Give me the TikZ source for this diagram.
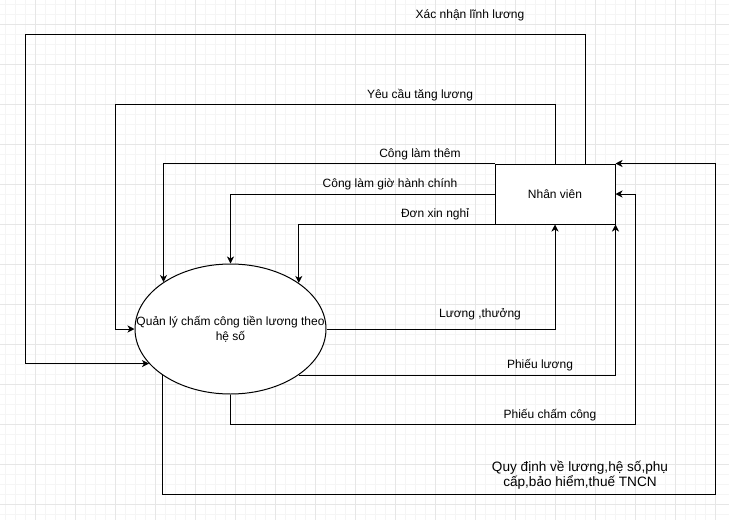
\documentclass[tikz,border=0pt]{standalone}
\usepackage{fontspec}
\setmainfont{Liberation Sans}
\usetikzlibrary{shapes.geometric,arrows.meta}
\definecolor{gridminor}{RGB}{245,245,245}
\definecolor{gridmajor}{RGB}{230,230,230}
\begin{document}
\begin{tikzpicture}[x=1pt,y=-1pt,
  conn/.style={draw=black, line width=1pt},
  arr/.style={conn, -{Stealth[length=7pt,width=7pt,inset=2pt]}},
  lbl/.style={font=\fontsize{12}{14.5}\selectfont, inner sep=0pt, align=center},
  biglbl/.style={lbl, font=\fontsize{13.6}{15.4}\selectfont},
]
\useasboundingbox (0,0) rectangle (729,520);
\fill[white] (0,0) rectangle (729,520);
\foreach \x in {5.7,15.7,...,725} \draw[gridminor, line width=0.8pt] (\x,0) -- (\x,520);
\foreach \y in {4.3,14.3,...,519} \draw[gridminor, line width=0.8pt] (0,\y) -- (729,\y);
\foreach \x in {35.7,75.7,...,725} \draw[gridmajor, line width=0.8pt] (\x,0) -- (\x,520);
\foreach \y in {24.3,64.3,...,519} \draw[gridmajor, line width=0.8pt] (0,\y) -- (729,\y);

\node[draw, line width=1pt, fill=white, minimum width=120pt, minimum height=60pt, lbl] (nv) at (555,194) {Nhân viên};
\node[ellipse, draw, line width=1pt, fill=white, minimum width=191pt, minimum height=130pt, inner sep=0pt] (proc) at (230.5,329) {};
\node[lbl] (proctext) at (230.5,329.5) {Quản lý chấm công tiền lương theo\\hệ số};

\draw[arr] ([xshift=-30pt]nv.north east) |- (25,34) |- (proc.203.5);
\draw[arr] (nv.north) |- (115,104) |- (proc.west);
\draw[arr] (nv.north west) -| (proc.145.7);
\draw[arr] (nv.west) -| (proc.north);
\draw[arr] (nv.south west) -| (proc.34.3);
\draw[arr] (proc.east) -| (nv.south);
\draw[arr] (proc.-34.3) -| (nv.south east);
\draw[arr] (proc.south) |- (635,424) |- (nv.east);
\draw[arr] (proc.214.3) |- (715,494) |- (nv.north east);

\node[lbl] (l1) at (470,15) {Xác nhận lĩnh lương};
\node[lbl] (l2) at (420,95) {Yêu cầu tăng lương};
\node[lbl] (l3) at (420,154.5) {Công làm thêm};
\node[lbl] (l4) at (390,184.3) {Công làm giờ hành chính};
\node[lbl] (l5) at (435,214) {Đơn xin nghỉ};
\node[lbl] (l6) at (480,314.3) {Lương ,thưởng};
\node[lbl] (l7) at (540,365) {Phiếu lương};
\node[lbl] (l8) at (550,415) {Phiếu chấm công};
\node[biglbl] (l9) at (580,475) {Quy định về lương,hệ số,phụ\\cấp,bảo hiểm,thuế TNCN};
\end{tikzpicture}
\end{document}
